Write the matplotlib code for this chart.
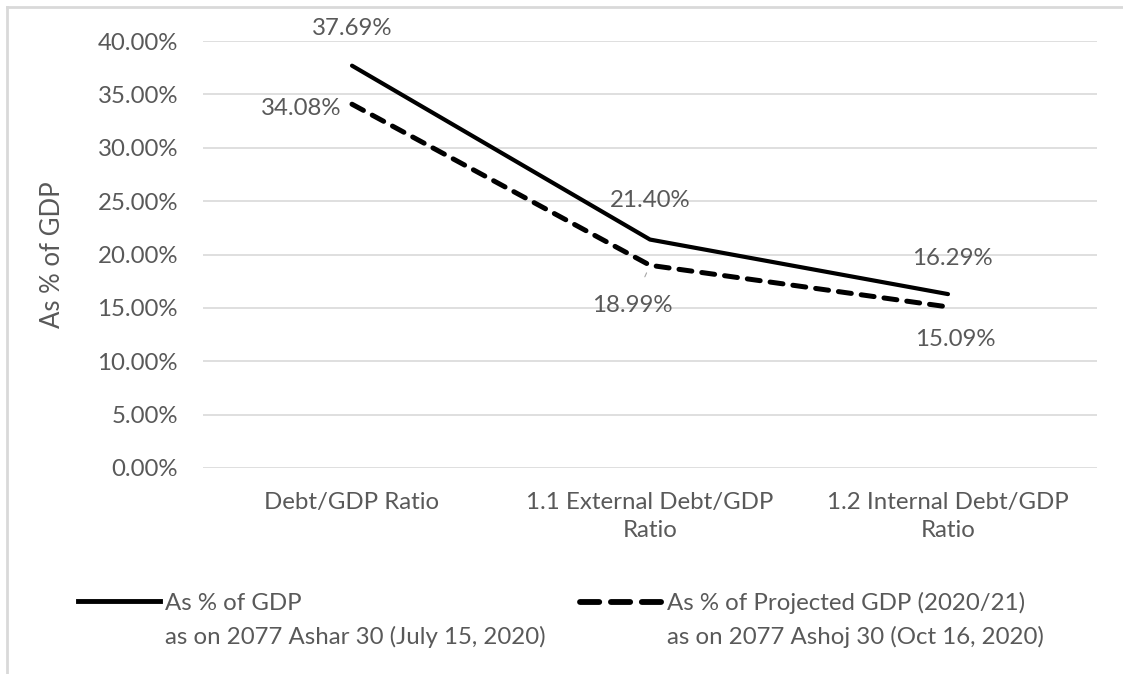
#!/usr/bin/env python3
import matplotlib
matplotlib.use("Agg")
import matplotlib.pyplot as plt
from matplotlib.lines import Line2D
from matplotlib.ticker import FuncFormatter

categories = ["Debt/GDP Ratio", "1.1 External Debt/GDP\nRatio", "1.2 Internal Debt/GDP\nRatio"]
actual_gdp = [37.69, 21.40, 16.29]
projected_gdp = [34.08, 18.99, 15.09]
legend_first = ["As % of GDP", "As % of Projected GDP (2020/21)"]
legend_second = ["as on 2077 Ashar 30 (July 15, 2020)", "as on 2077 Ashoj 30 (Oct 16, 2020)"]

W, H = 1123, 674
TXT = "#595959"
GRID = "#d9d9d9"
FS = 17.3


def main():
    plt.rcParams["font.family"] = ["Lato", "DejaVu Sans"]
    fig = plt.figure(figsize=(W / 100, H / 100), dpi=100)

    # frame of the chart area (only top and left edges are visible)
    fig.add_artist(Line2D([7 / W, 1], [1 - 7 / H, 1 - 7 / H], color=GRID, lw=2))
    fig.add_artist(Line2D([7 / W, 7 / W], [0, 1 - 7 / H], color=GRID, lw=2))

    ax = fig.add_axes([203 / W, 1 - 468 / H, (1097 - 203) / W, (468 - 41) / H])
    x = list(range(len(categories)))

    ax.plot(x, actual_gdp, color="black", lw=3, solid_capstyle="round", zorder=3)
    ax.plot(x, projected_gdp, color="black", lw=3.6, dashes=(2.6, 2.0),
            dash_capstyle="round", zorder=3)

    ax.set_xlim(-0.5, 2.5)
    ax.set_ylim(0, 40)
    ax.set_yticks(range(0, 41, 5))
    ax.yaxis.set_major_formatter(FuncFormatter(lambda v, p: "{0:.2f}%".format(v)))
    ax.set_xticks(x)
    ax.set_xticklabels(categories, linespacing=1.45)
    ax.tick_params(axis="both", length=0, labelsize=FS, labelcolor=TXT)
    ax.tick_params(axis="y", pad=18)
    ax.tick_params(axis="x", pad=17)
    ax.grid(axis="y", color=GRID, lw=1.2)
    ax.set_axisbelow(True)
    for s in ax.spines.values():
        s.set_visible(False)

    ax.set_ylabel("As % of GDP", fontsize=18.5, color=TXT)
    ax.yaxis.set_label_coords((65 - 203) / (1097 - 203), 0.5)

    # data labels (pixel offsets)
    offs_actual = [(0, 37), (0, 39), (4, 36)]
    offs_proj = [(-11, -4), (-18, -40), (7, -33)]
    for i, v in enumerate(actual_gdp):
        ax.annotate("{0:.2f}%".format(v), (i, v), xytext=offs_actual[i],
                    textcoords="offset pixels", ha="center", va="center",
                    fontsize=FS, color=TXT)
    for i, v in enumerate(projected_gdp):
        ha = "right" if i == 0 else "center"
        kw = {}
        if i == 1:
            kw["arrowprops"] = dict(arrowstyle="-", color="#a6a6a6", lw=0.8,
                                    shrinkA=12, shrinkB=6)
        ax.annotate("{0:.2f}%".format(v), (i, v), xytext=offs_proj[i],
                    textcoords="offset pixels", ha=ha, va="center",
                    fontsize=FS, color=TXT, **kw)

    # legend
    handles = [Line2D([], [], color="black", lw=3.5),
               Line2D([], [], color="black", lw=4.2, dashes=(3.3, 2.0),
                      dash_capstyle="round")]
    starts = [78, 580]
    for h, lab, lab2, xs in zip(handles, legend_first, legend_second, starts):
        fig.legend([h], [lab], loc="center left",
                   bbox_to_anchor=(xs / W, 1 - 603 / H), frameon=False,
                   borderpad=0, borderaxespad=0, handlelength=82 / (FS * 1.389),
                   handletextpad=0.2, fontsize=FS, labelcolor=TXT)
        fig.text((xs + 87) / W, 1 - 637 / H, lab2, fontsize=FS, color=TXT,
                 va="center", ha="left")

    fig.savefig("out.png", dpi=100)


if __name__ == "__main__":
    main()
